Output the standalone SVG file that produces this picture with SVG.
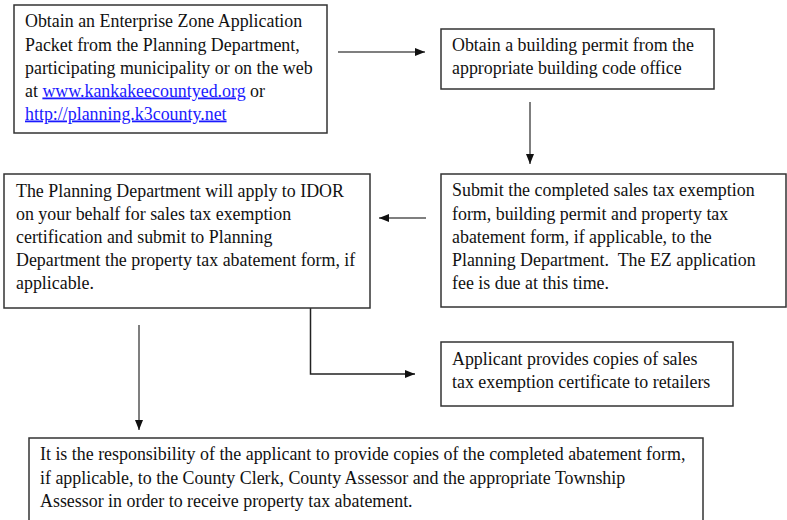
<svg xmlns="http://www.w3.org/2000/svg" width="787" height="520" viewBox="0 0 787 520">
<defs>
<style>
.box{fill:#fff;stroke:#333;stroke-width:1.5}
.t{font-family:"Liberation Serif","Times New Roman",serif;font-size:17.9px;fill:#111}
.lnk{fill:#1a1aff;text-decoration:underline}
.c{fill:none;stroke:#555;stroke-width:1.5}
.cb{fill:none;stroke:#222;stroke-width:1.5}
</style>
<marker id="ah" markerUnits="userSpaceOnUse" markerWidth="10" markerHeight="8" refX="10" refY="4" orient="auto">
<path d="M0,0 L10,4 L0,8 z" fill="#111"/>
</marker>
</defs>
<rect width="787" height="520" fill="#fff"/>
<g id="connectors">
<path class="c" d="M338 52 H425" marker-end="url(#ah)"/>
<path class="c" d="M530 102 V164" marker-end="url(#ah)"/>
<path class="c" d="M426 218 H379" marker-end="url(#ah)"/>
<path class="cb" d="M310.5 308 V374 H415" marker-end="url(#ah)"/>
<path class="c" d="M139 325 V430" marker-end="url(#ah)"/>
</g>
<g id="n1">
<rect class="box" x="14" y="5" width="313" height="128"/>
<text class="t" x="25" y="27">Obtain an Enterprise Zone Application</text>
<text class="t" x="25" y="50.5">Packet from the Planning Department,</text>
<text class="t" x="25" y="73.5">participating municipality or on the web</text>
<text class="t" x="25" y="96.5">at <tspan class="lnk">www.kankakeecountyed.org</tspan> or</text>
<text class="t" x="25" y="119.5"><tspan class="lnk">http://planning.k3county.net</tspan></text>
</g>
<g id="n2">
<rect class="box" x="441" y="29" width="273" height="60"/>
<text class="t" x="452" y="51">Obtain a building permit from the</text>
<text class="t" x="452" y="74">appropriate building code office</text>
</g>
<g id="n3">
<rect class="box" x="4" y="174" width="366" height="134"/>
<text class="t" x="16" y="196.5">The Planning Department will apply to IDOR</text>
<text class="t" x="16" y="219.5">on your behalf for sales tax exemption</text>
<text class="t" x="16" y="243">certification and submit to Planning</text>
<text class="t" x="16" y="266">Department the property tax abatement form, if</text>
<text class="t" x="16" y="288.5">applicable.</text>
</g>
<g id="n4">
<rect class="box" x="441" y="174" width="345" height="133"/>
<text class="t" x="452" y="196">Submit the completed sales tax exemption</text>
<text class="t" x="452" y="219.5">form, building permit and property tax</text>
<text class="t" x="452" y="242.5">abatement form, if applicable, to the</text>
<text class="t" x="452" y="266" xml:space="preserve">Planning Department.  The EZ application</text>
<text class="t" x="452" y="289">fee is due at this time.</text>
</g>
<g id="n5">
<rect class="box" x="441" y="342" width="292" height="64"/>
<text class="t" x="452" y="365">Applicant provides copies of sales</text>
<text class="t" x="452" y="388">tax exemption certificate to retailers</text>
</g>
<g id="n6">
<rect class="box" x="29" y="438" width="674" height="100"/>
<text class="t" x="40" y="460">It is the responsibility of the applicant to provide copies of the completed abatement form,</text>
<text class="t" x="40" y="483.5">if applicable, to the County Clerk, County Assessor and the appropriate Township</text>
<text class="t" x="40" y="507">Assessor in order to receive property tax abatement.</text>
</g>
</svg>
